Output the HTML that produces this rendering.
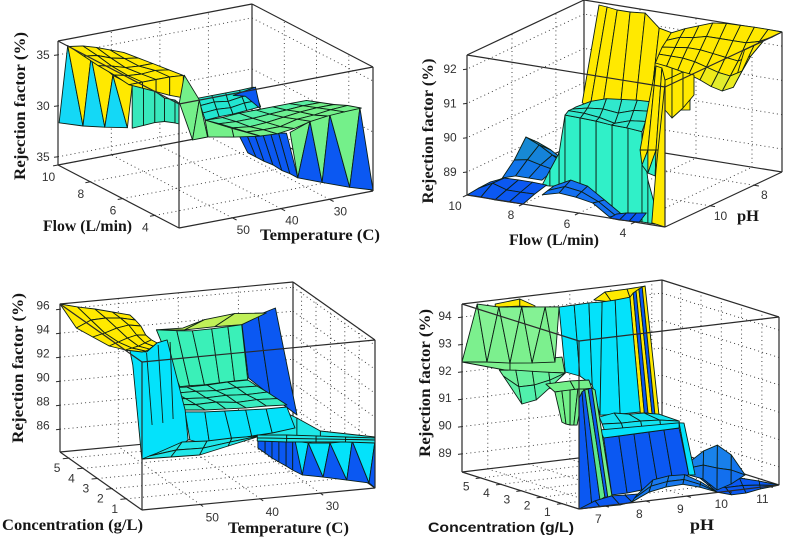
<!DOCTYPE html>
<html lang="en">
<head>
<meta charset="utf-8">
<title>Rejection factor response surfaces</title>
<style>
html,body{margin:0;padding:0;background:#fff;}
#chart{display:block;width:785px;height:539px;filter:blur(0.35px);}
.title{font-family:"Liberation Serif",serif;font-weight:bold;font-size:16px;fill:#161616;}
.tick{font-family:"Liberation Sans",sans-serif;font-size:12px;fill:#333;text-anchor:middle;dominant-baseline:central;}
</style>
</head>
<body>
<svg id="chart" xmlns="http://www.w3.org/2000/svg" width="785" height="539" viewBox="0 0 785 539">
<rect width="785" height="539" fill="#fff"/>
<g id="layer-1"></g>
<g id="layer-2"></g>
<g id="layer-3"></g>
<g id="layer-4"></g>
<text class="title" transform="translate(25 106) rotate(-90)" text-anchor="middle" textLength="148" lengthAdjust="spacingAndGlyphs">Rejection factor (%)</text>
<text class="title" x="43" y="231" textLength="89" lengthAdjust="spacingAndGlyphs">Flow (L/min)</text>
<text class="title" x="260" y="240" textLength="120" lengthAdjust="spacingAndGlyphs">Temperature (C)</text>
<text class="title" transform="translate(433 131) rotate(-90)" text-anchor="middle" textLength="145" lengthAdjust="spacingAndGlyphs">Rejection factor (%)</text>
<text class="title" x="509" y="245" textLength="90" lengthAdjust="spacingAndGlyphs">Flow (L/min)</text>
<text class="title" x="737" y="221" textLength="22" lengthAdjust="spacingAndGlyphs">pH</text>
<text class="title" transform="translate(23 368) rotate(-90)" text-anchor="middle" textLength="150" lengthAdjust="spacingAndGlyphs">Rejection factor (%)</text>
<text class="title" x="2" y="530" textLength="141" lengthAdjust="spacingAndGlyphs">Concentration (g/L)</text>
<text class="title" x="228" y="533" textLength="121" lengthAdjust="spacingAndGlyphs">Temperature (C)</text>
<text class="title" transform="translate(430 383) rotate(-90)" text-anchor="middle" textLength="148" lengthAdjust="spacingAndGlyphs">Rejection factor (%)</text>
<text class="title" x="428" y="532" textLength="146" lengthAdjust="spacingAndGlyphs" style="font-family:'Liberation Sans',sans-serif;font-size:14px">Concentration (g/L)</text>
<text class="title" x="690" y="530" textLength="24" lengthAdjust="spacingAndGlyphs">pH</text>
</svg>
<script>
/* ---------- tick values and labels ---------- */
const p1XTicks=[50,40,30];
const p1YTicks=[10,8,6,4];
const p1ZTicks=[95,90,85];
const p1ZLabels=['35','30','35'];
const p2XTicks=[10,8,6,4];
const p2YTicks=[10,8];
const p2ZTicks=[92,91,90,89];
const p2ZLabels=['92','91','90','89'];
const p3XTicks=[50,40,30];
const p3YTicks=[5,4,3,2,1];
const p3ZTicks=[96,94,92,90,88,86];
const p3ZLabels=['96','94','92','90','88','86'];
const p4XTicks=[7,8,9,10,11];
const p4YTicks=[5,4,3,2,1];
const p4ZTicks=[94,93,92,91,90,89];
const p4ZLabels=['94','93','92','91','90','89'];

/* ---------- panel 1: temperature (x), flow (y), rejection (z) ---------- */
const p1TealBackFlow=[7,7.15,7.3,7.45];
const p1TealBackZ=[[89.2,89.3,89.3,89.4,89.5],[89.8,89.9,89.8,90,90],[90.4,90.5,90.3,90.5,90.5],[91,91,91,91,91.05]];
const p1BlueTopT=[34.2,29.6], p1BlueTopZ=[90.9,91.3], p1BlueBotT=[31.7,28.6], p1BlueBotZ=[90.6,89.1];
const p1ZigLeftFlow=[9.93,9.4,8.45,7.95,7.1,6.6,5.7,5.4];
const p1ZigLeftZ=[88.4,96.4,89.3,96.5,90.3,95.8,91.4,95.8];
const p1TealFlow=[5.4,4.7,4,3.4,2.75,2.5];
const p1TealTop=[95.8,96.6,96.4,96.2,96.54,96.45];
const p1TealBot=[91.6,92.45,93.3,93.9,94.3,94.4];
const p1YellowFlow=[5.6,6.5,7.5,8.4,9.3];
const p1YellowZ=[[95.7,95.7,95.7,95.7,95.6],[95.9,95.6,95.5,95.6,95.4],[96,95.7,95.3,95.2,95.2],[96.2,96,95.5,95.2,95],[96.4,96.2,95.8,95.3,94.8]];
const p1YellowFrontT=[61,58.2,55.4,52.6,49.8];
const p1YellowFrontTop=[95.7,95.7,95.7,95.7,95.6];
const p1YellowFrontBot=[95.7,95.1,94.5,93.9,93.4];
const p1BlueWallTopF=[3.2,3.7,4.2,4.7,5.2,5.7,6.2];
const p1BlueWallTopZ=[90.7,90.3,89.9,89.5,89,88.6,88.2];
const p1BlueWallBotF=[2.5,3,3.5,4.05,4.6,5.1,5.6];
const p1BlueWallBotZ=[86.9,86.9,86.8,86.9,86.8,86.8,86.8];
const p1ZigRightT=[38.1,36.5,34,31.5,29.9,25.8,23.7,21];
const p1ZigRightZ=[91.5,86.9,92.2,86,92.5,85,92.6,84.3];
const p1GreenWallTopT=[49.6,46.5,44.8], p1GreenWallTopZ=[95.6,92.9,89.1];
const p1GreenWallBotT=[50.6,47.9,44.8], p1GreenWallBotZ=[93,89.1,89.1];
const p1GreenExtTopT=[50.6,45.1,39.3], p1GreenExtTopZ=[92.6,91.3,90];
const p1GreenExtBotT=[50,44.7,39.3], p1GreenExtBotZ=[90.9,90.4,90];
const p1GreenFlow=[2.5,3.35,4.2,5.05,5.9];
const p1GreenZ=[[91.7,91.6,91.8,92.2,92.4,92.5,92.55],[91.4,91.3,91.3,91.7,91.8,92,92.1],[91.1,90.9,91,91.2,91.4,91.5,91.5],[90.8,90.7,90.7,90.8,90.9,91,91],[90.45,90.4,90.5,90.5,90.5,90.5,90.5]];

/* ---------- panel 2: flow (x), pH (y), rejection (z) ---------- */
const p2BackTopF=[9.05,8.76,8.4,7.94,7.4,6.9,6.44,5.8];
const p2BackTopZ=[92.55,92.53,92.49,92.49,92.53,92.16,92.08,91.37];
const p2BackBotF=[9.65,9.37,8.94,8.3,7.76,7.23,6.44,5.8];
const p2BackBotZ=[89.62,89.51,89.5,89.59,89.66,89.73,89.83,89.92];
const p2HillPH=[8.43,8,7.57,7.15,6.72];
const p2HillTo=[6.11,6.32,6.54,6.71,6.89];
const p2HillZ=[[92.4,91.26,91.1,91.18,91.32,91.43,91.5,91.56,91.6],[92.4,91.6,91.4,91.45,91.55,91.65,91.7,91.7,91.7],[92.4,91.9,91.7,91.75,91.8,91.85,91.85,91.8,91.75],[92.4,92.2,92.1,92.1,92.1,92.1,92,91.95,91.8],[92.41,92.42,92.42,92.41,92.4,92.35,92.2,92.05,91.86]];
const p2RightPH=[12.05,11.73,11.23,10.73];
const p2RightTop=[92.61,92.6,92.6,92.36];
const p2RightBot=[91.74,91.41,91.55,91.78];
const p2HumpPH=[11.52,10.98,10.45,9.92];
const p2HumpZ=[[88.78,88.9,88.9,88.9],[89.14,89.21,89.12,89.04],[89.65,89.48,89.25,89.02],[89.34,89.18,88.94,88.71]];
const p2TealFlow=[7.32,7.04,6.71,6.5,5.96,5.39,4.82,4.25,3.75,3.54,3.28];
const p2TealTop=[88.97,89.45,89.99,91.12,91.11,91.09,91.05,91.04,91,89.62,88.87];
const p2TealBot=[88.97,88.98,89.03,89.14,89.07,88.85,88.34,88.36,88.37,88.37,88.37];
const p2PlateauPH=[12.05,11.89,11.73,11.57];
const p2PlateauZ=[[91,91.04,91.05,91.09,91.11,91.12],[91.25,91.2,91.05,91.15,91.2,91.2],[91.5,91.45,91.3,91.35,91.3,91.2],[91.72,91.7,91.65,91.6,91.45,91.21]];
const p2SpikeBaseTopF=[3.5,3.25,3.04,2.93], p2SpikeBaseTopZ=[91.9,92.98,92.95,92.61];
const p2SpikeBaseBotF=[3.82,3.54,3.25,2.93], p2SpikeBaseBotZ=[90.46,90.49,90.53,90.57];
const p2ZigFlow=[3.82,3.75,3.54,3.54,3.25,3.28,2.93];
const p2ZigZ=[90.46,90.03,90.49,89.82,90.53,89.77,90.57];
const p2BarTopF=[3.25,2.93], p2BarTopZ=[89.95,92.53], p2BarBotF=[3.4,2.93], p2BarBotZ=[88.39,88.33];
const p2BlueAPH=[12.05,11.52,10.98];
const p2BlueAZ=[[88.33,88.34,88.32,88.32,88.33],[88.37,88.58,88.45,88.45,88.46],[88.39,88.57,88.58,88.58,88.56]];
const p2BlueBPH=[12.05,11.79,11.52];
const p2BlueBZ=[[88.69,88.82,88.78,88.69,88.36],[88.74,88.93,88.86,88.65,88.33],[88.79,89.04,88.94,88.62,88.29]];
const p2BlueCPH=[12.05,11.73];
const p2BlueCZ=[[88.33,88.32,88.34,88.35],[88.35,88.43,88.47,88.52]];

/* ---------- panel 3: temperature (x), concentration (y), rejection (z) ---------- */
const p3BlueBackTopT=[30.8,28.1,25.2], p3BlueBackTopZ=[94.05,94.5,94.95];
const p3BlueBackBotT=[29.7,26.1,21.6], p3BlueBackBotZ=[89.33,87.75,85.87];
const p3TopStripFrontT=[47,42.3,37.3,32.8], p3TopStripFrontZ=[94.87,94.64,94.67,94.62];
const p3TopStripBackT=[42.6,39,34,28.7], p3TopStripBackZ=[94.8,95.33,95.6,95.4];
const p3TealTopT=[47,43.6,41,37.8,35.1,32.8], p3TealTopZ=[94.87,94.63,94.5,94.52,94.56,94.62];
const p3TealBotT=[43.1,41.5,39,36.5,34,31.8], p3TealBotZ=[89.94,89.95,89.91,89.96,90,89.99];
const p3MidConc=[1.33,2,2.7,3.4,4.04];
const p3MidZ=[[90.72,90.56,90.49,90.41,90.41,90.34],[90.58,90.45,90.5,90.3,90.38,90.3],[90.45,90.35,90.25,90.3,90.2,90.25],[90.3,90.2,90.2,90.1,90.2,90.15],[90.17,90.1,90.02,90.02,90.11,90.12]];
const p3TailTopT=[36.7,33.9,30,20.9], p3TailTopZ=[91.35,90.55,89.28,88.35];
const p3TailBotT=[40.5,33.9,30,20.9], p3TailBotZ=[89.27,88.97,88.78,88.1];
const p3MidWallTopT=[49.1,45.8,42.5,39,35.6,32.15], p3MidWallTopZ=[90.56,90.4,90.32,90.24,90.17,90.17];
const p3MidWallBotT=[48.3,45,41.3,38,34.6,30.8], p3MidWallBotZ=[88.18,87.61,87.86,88.03,88.12,88.36];
const p3BandT0=[40.5,40.5,40.5], p3BandT1=[20.9,20.9,20.9];
const p3BandZ=[[88.94,88.63,88.4,88.16,87.85],[89.2,88.93,88.65,88.38,88.1],[89.44,89.21,88.9,88.58,88.27]];
const p3LowWallT=[40.4,39.2,38.05,36.9,35.7,34.6,33];
const p3LowWallTop=[89.18,89.13,89.08,89.03,88.97,88.91,88.84];
const p3LowWallBot=[88.35,87.88,87.41,87.02,86.63,86.24,85.76];
const p3ZigT=[34.2,33,32,29.55,28.4,25.6,24.7,21.9,20.9,20.9];
const p3ZigZ=[88.64,85.76,88.38,85.42,88.2,84.98,88.2,84.57,88.02,84.1];
const p3WallTopT=[58.3,55.5,53.8,52.1,50.6,49.1,48.6], p3WallTopZ=[96.15,95.85,96.53,96.7,93.71,90.72,88.2];
const p3WallBotT=[57.8,56.3,55,53.3,51.6,50,48.6], p3WallBotZ=[94.88,86.98,87,87.09,87.34,87.68,88.2];
const p3LowT0=[58.3,57.1,55.8], p3LowT1=[39.2,39.2,39.2];
const p3LowZ=[[87.8,87.74,87.68,88.21,88.73],[87.99,88.28,88.23,88.52,88.77],[88.18,88.9,88.79,88.84,88.81]];
const p3YellowConc=[-0.1,1.04,2.18,3.32,4.46,5.6];
const p3YellowTo=[57.2,55.4,53.6,51.7,49.9,48.06];
const p3YellowZ=[[97.26,97.31,97.45,97.67,97.9],[96.46,96.58,96.69,96.9,97.1],[95.83,96.09,96.35,96.53,96.45],[95.61,95.85,96.17,96.33,96.15],[95.4,95.95,96,95.88,95.6],[96.43,96.05,95.74,95.35,94.96]];
const p3RibTopT=[55.5,53.6,51.6], p3RibTopZ=[95.77,96.35,96.5];
const p3RibBotT=[54.6,52.8,51.1], p3RibBotZ=[89.73,89.81,90.06];

/* ---------- panel 4: pH (x), concentration (y), rejection (z) ---------- */
const p4CapTopX=[9.3,9.57,10.11,10.55], p4CapTopZ=[94.24,94.48,94.49,94.52];
const p4CapBotX=[9.3,9.74,10.18,10.43], p4CapBotZ=[94.24,94.08,94.18,94.14];
const p4StripeTopX=[10.18,10.26,10.33,10.4,10.48,10.55], p4StripeTopZ=[94.18,94.32,94.38,94.44,94.5,94.52];
const p4StripeBotX=[10.43,10.53,10.62,10.72,10.79,10.89], p4StripeBotZ=[89.9,89.89,89.87,89.81,89.8,89.75];
const p4SkirtFootTopX=[6.37,7.54,8.81], p4SkirtFootTopZ=[92.36,92.15,92.1];
const p4SkirtFootBotX=[6.37,7.54,8.88], p4SkirtFootBotZ=[92.36,91.82,91.51];
const p4ZigX=[6.37,6.74,6.98,7.27,7.54,7.83,8.08,8.4,8.64,8.74];
const p4ZigZ=[92.36,94.41,92.25,94.21,92.11,94.11,92.02,94.01,91.95,93.95];
const p4TinyX=[7.18,7.78,8.15], p4TinyTop=[94.33,94.41,94.09], p4TinyBot=[94.22,94.15,94.05];
const p4LowerFrom=[7.47,7.37,7.27], p4LowerTo=[8.88,8.88,8.88];
const p4LowerZ=[[91.43,90.57,90.66,91.07,91.51],[91.67,91.21,91.21,91.32,91.51],[91.91,91.83,91.72,91.61,91.51]];
const p4CyanTopX=[8.45,8.82,9.18,9.5,9.82,10.18], p4CyanTopZ=[94.13,94.14,94.15,94.13,94.14,94.18];
const p4CyanBotX=[8.6,8.96,9.26,9.45,9.94,10.43], p4CyanBotZ=[91.73,91.52,91.14,90,89.95,89.94];
const p4PlateauFrom=[8.72,8.64,8.57], p4PlateauTo=[10.52,10.52,10.03];
const p4PlateauZ=[[89.88,89.88,89.87,89.86,89.89],[90.23,90.18,90.17,90.12,90],[90.5,90.58,90.47,90.45,90.34]];
const p4FlatFrom=[9.74,9.53,9.32], p4FlatTo=[11.15,11.2,11.25];
const p4FlatZ=[[88.35,88.19,88.19,88.28,88.32],[88.65,88.48,88.48,88.42,88.33],[88.94,88.78,88.77,88.57,88.34]];
const p4HillFrom=[9.34,9.35,9.36], p4HillTo=[10.71,10.71,10.71];
const p4HillZ=[[88.91,88.71,88.24,88.4,88.67],[89.17,89.21,89.04,88.91,88.67],[89.39,89.73,89.88,89.46,88.67]];
const p4BlueTopX=[7.83,8.2,8.57,8.93,9.3,9.67], p4BlueTopZ=[90.27,90.27,90.28,90.29,90.3,90.3];
const p4BlueBotX=[8.03,8.4,8.76,9.13,9.5,9.91], p4BlueBotZ=[88.15,88.15,88.2,88.5,88.54,88.54];
const p4BandTopX=[7.74,9.67], p4BandTopZ=[90.58,90.49], p4BandBotX=[7.83,9.67], p4BandBotZ=[90.27,90.3];
const p4SideTopX=[9.67,9.79], p4SideTopZ=[90.49,90.46], p4SideBotX=[9.91,10.06], p4SideBotZ=[88.54,88.52];
const p4GreenCapTopX=[6.42,7.01,7.47], p4GreenCapTopZ=[92.49,92.5,92.45];
const p4GreenCapBotX=[6.64,7.13,7.54], p4GreenCapBotZ=[92.16,92.15,92.14];
const p4GreenWallTopX=[6.64,6.81,7.01,7.2,7.35], p4GreenWallTopZ=[92.16,92.17,92.17,92.17,92.14];
const p4GreenWallBotX=[6.81,6.91,7.01,7.1,7.18], p4GreenWallBotZ=[91.03,90.94,90.89,90.87,90.86];
const p4LeftTopX=[6.66,6.73,6.8,6.88,6.97,7.05], p4LeftTopZ=[92.21,92.42,92.48,92.5,92.52,92.43];
const p4LeftBotX=[6.66,6.97,7.17,7.29,7.36,7.46], p4LeftBotZ=[88.15,88.24,88.39,88.48,88.46,88.49];
const p4FloorTopX=[6.66,7.05,7.46,7.78,8.12], p4FloorTopZ=[88.15,88.38,88.49,88.46,88.44];
const p4FloorBotX=[6.66,7.17,7.66,7.95,8.12], p4FloorBotZ=[88.15,88.14,88.12,88.18,88.29];
const p4BumpFrom=[7.95,8.01,8.07], p4BumpTo=[10.02,10.02,10.02];
const p4BumpZ=[[88.18,88.46,88.57,88.6,88.42,88.17],[88.3,88.67,88.77,88.77,88.52,88.17],[88.41,88.89,88.97,88.94,88.61,88.17]];

/* ---------- colours ---------- */
const YEL='#ffe900', CYAN='#04e2fb', TEAL='#32eec2', GREEN='#74f08a', BLUE='#0b58f2';
const NS='http://www.w3.org/2000/svg';

/* ---------- axis frames: one linear function per axis, combined into an oblique projection ---------- */
const P1={layer:'layer-1',key:'p1',O:[179,228],u:[194,-37],v:[-121,-63],h:124,x:[61,21],y:[2.5,10],z:[84.2,96.36],zEdge:[61,10],xOff:[11,12],yOff:[-9.5,12],zOff:[-15,0]};
const P2={layer:'layer-2',key:'p2',O:[665,227],u:[-198,-32],v:[117,-55],h:140,x:[2.93,10],y:[12.05,6.72],z:[88.33,92.41],zEdge:[10,12.05],xOff:[-12,11],yOff:[10.5,10],zOff:[-17,0]};
const P3={layer:'layer-3',key:'p3',O:[142,510],u:[233,-22],v:[-82,-58],h:148,x:[59.7,20.9],y:[-0.1,5.6],z:[84.1,96.43],zEdge:[59.7,5.6],xOff:[12,13],yOff:[-11.5,10],zOff:[-17,-3.5]};
const P4={layer:'layer-4',key:'p4',O:[579,509],u:[200,-24],v:[-117,-37],h:168,x:[6.37,11.25],y:[0.16,5.92],z:[88.34,94.48],zEdge:[6.37,5.92],xOff:[-6.5,13],yOff:[-14.5,8.5],zOff:[-17,-1]};

function project(P,x,y,z){
  const a=(x-P.x[0])/(P.x[1]-P.x[0]);
  const b=(y-P.y[0])/(P.y[1]-P.y[0]);
  const c=(z-P.z[0])/(P.z[1]-P.z[0]);
  return [P.O[0]+P.u[0]*a+P.v[0]*b, P.O[1]+P.u[1]*a+P.v[1]*b-P.h*c];
}
function at(v,i){return Array.isArray(v)?v[i]:v;}
function hex(c){return [1,3,5].map(function(i){return parseInt(c.substr(i,2),16);});}
function colorFor(fill,z){
  if(typeof fill==='string')return fill;
  const t=Math.max(0,Math.min(1,(z-fill[2])/(fill[3]-fill[2])));
  const A=hex(fill[0]),B=hex(fill[1]);
  return 'rgb('+A.map(function(v,i){return Math.round(v+(B[i]-v)*t);}).join(',')+')';
}
function layer(P){return document.getElementById(P.layer);}
function poly(P,pts,fill,name){
  const el=document.createElementNS(NS,'polygon');
  el.setAttribute('points',pts.map(function(p){return p[0].toFixed(1)+','+p[1].toFixed(1);}).join(' '));
  el.setAttribute('fill',fill);
  el.setAttribute('stroke','#0d1f16');
  el.setAttribute('stroke-width','0.9');
  el.setAttribute('stroke-linejoin','round');
  
  
  layer(P).appendChild(el);
}
function line(P,p,q,name,width,color,dash){
  const el=document.createElementNS(NS,'line');
  el.setAttribute('x1',p[0].toFixed(1));
  el.setAttribute('y1',p[1].toFixed(1));
  el.setAttribute('x2',q[0].toFixed(1));
  el.setAttribute('y2',q[1].toFixed(1));
  el.setAttribute('stroke',color);
  el.setAttribute('stroke-width',width);
  if(dash)el.setAttribute('stroke-dasharray',dash);
  
  
  layer(P).appendChild(el);
}
function label(P,p,off,str,name){
  const el=document.createElementNS(NS,'text');
  el.setAttribute('class','tick');
  el.setAttribute('x',(p[0]+off[0]).toFixed(1));
  el.setAttribute('y',(p[1]+off[1]).toFixed(1));
  el.textContent=str;
  
  
  layer(P).appendChild(el);
}
/* mesh over rows; each row spans xFrom..xTo at its y value, z table gives heights */
function sheet(P,name,fill,rowY,xFrom,xTo,z){
  const rows=z.length,cols=z[0].length;
  const pt=function(i,j){
    const x=at(xFrom,i)+(at(xTo,i)-at(xFrom,i))*j/(cols-1);
    return project(P,x,at(rowY,i),z[i][j]);
  };
  for(let i=rows-2;i>=0;i--){
    for(let j=0;j<cols-1;j++){
      const avg=(z[i][j]+z[i][j+1]+z[i+1][j]+z[i+1][j+1])/4;
      poly(P,[pt(i,j),pt(i,j+1),pt(i+1,j+1),pt(i+1,j)],colorFor(fill,avg),name+'-cell');
    }
  }
}
/* wall between a top polyline and a bottom polyline */
function strip(P,name,fill,topX,topY,topZ,botX,botY,botZ){
  const n=Math.max(topX.length||0,topY.length||0);
  for(let i=0;i<n-1;i++){
    const f=Array.isArray(fill)?fill[i%fill.length]:fill;
    poly(P,[project(P,at(topX,i),at(topY,i),at(topZ,i)),project(P,at(topX,i+1),at(topY,i+1),at(topZ,i+1)),project(P,at(botX,i+1),at(botY,i+1),at(botZ,i+1)),project(P,at(botX,i),at(botY,i),at(botZ,i))],f,name+'-panel');
  }
}
/* saw-tooth skirt of alternating triangles */
function zigzag(P,name,fills,xs,ys,zs){
  const n=Math.max(xs.length||0,ys.length||0);
  for(let i=0;i<n-2;i++){
    poly(P,[0,1,2].map(function(k){return project(P,at(xs,i+k),at(ys,i+k),at(zs,i+k));}),fills[i%fills.length],name+'-tooth');
  }
}
function ribs(P,name,topX,y,topZ,botX,botZ){
  topX.forEach(function(v,i){
    line(P,project(P,v,y,topZ[i]),project(P,botX[i],y,botZ[i]),name,'0.9','#0d1f16');
  });
}
function backFrame(P,xTicks,yTicks,zTicks){
  const k=P.key,X0=P.x[0],X1=P.x[1],Y0=P.y[0],Y1=P.y[1],Z0=P.z[0],Z1=P.z[1];
  const dot='1 3.2';
  xTicks.forEach(function(t){
    line(P,project(P,t,Y0,Z0),project(P,t,Y1,Z0),k+'-floor-gridline-x','0.9','#333',dot);
    line(P,project(P,t,Y1,Z0),project(P,t,Y1,Z1),k+'-wall-gridline-x','0.9','#333',dot);
  });
  yTicks.forEach(function(t){
    line(P,project(P,X0,t,Z0),project(P,X1,t,Z0),k+'-floor-gridline-y','0.9','#333',dot);
    line(P,project(P,X1,t,Z0),project(P,X1,t,Z1),k+'-wall-gridline-y','0.9','#333',dot);
  });
  zTicks.forEach(function(t){
    line(P,project(P,X0,Y1,t),project(P,X1,Y1,t),k+'-wall-gridline-z','0.9','#333',dot);
    line(P,project(P,X1,Y1,t),project(P,X1,Y0,t),k+'-wall-gridline-z','0.9','#333',dot);
  });
  const c='#2a2a2a',w='1.2';
  line(P,project(P,X1,Y1,Z1),project(P,X0,Y1,Z1),k+'-box-edge','1.2',c);
  line(P,project(P,X1,Y1,Z1),project(P,X1,Y0,Z1),k+'-box-edge',w,c);
  line(P,project(P,X1,Y1,Z0),project(P,X0,Y1,Z0),k+'-box-edge',w,c);
  line(P,project(P,X1,Y1,Z0),project(P,X1,Y0,Z0),k+'-box-edge',w,c);
  line(P,project(P,X1,Y1,Z0),project(P,X1,Y1,Z1),k+'-box-edge',w,c);
}
function frontFrame(P,xTicks,yTicks,zTicks,zLabels){
  const k=P.key,X0=P.x[0],X1=P.x[1],Y0=P.y[0],Y1=P.y[1],Z0=P.z[0],Z1=P.z[1];
  const c='#2a2a2a',w='1.2';
  line(P,project(P,X0,Y0,Z1),project(P,X1,Y0,Z1),k+'-box-edge',w,c);
  line(P,project(P,X0,Y0,Z1),project(P,X0,Y1,Z1),k+'-box-edge',w,c);
  line(P,project(P,X0,Y0,Z0),project(P,X1,Y0,Z0),k+'-x-axis-line',w,c);
  line(P,project(P,X0,Y0,Z0),project(P,X0,Y1,Z0),k+'-y-axis-line',w,c);
  line(P,project(P,X0,Y0,Z0),project(P,X0,Y0,Z1),k+'-box-edge',w,c);
  line(P,project(P,X1,Y0,Z0),project(P,X1,Y0,Z1),k+'-box-edge',w,c);
  line(P,project(P,X0,Y1,Z0),project(P,X0,Y1,Z1),k+'-z-axis-line',w,c);
  xTicks.forEach(function(t){
    const p=project(P,t,Y0,Z0);
    line(P,p,[p[0]-P.v[0]*0.035,p[1]-P.v[1]*0.035],k+'-x-tick','1',c);
    label(P,p,P.xOff,String(t),k+'-x-tick-label');
  });
  yTicks.forEach(function(t){
    const p=project(P,X0,t,Z0);
    line(P,p,[p[0]-P.u[0]*0.025,p[1]-P.u[1]*0.025],k+'-y-tick','1',c);
    label(P,p,P.yOff,String(t),k+'-y-tick-label');
  });
  zTicks.forEach(function(t,i){
    const p=project(P,P.zEdge[0],P.zEdge[1],t);
    line(P,p,[p[0]-4,p[1]+0.5],k+'-z-tick','1',c);
    label(P,p,P.zOff,zLabels[i],k+'-z-tick-label');
  });
}

/* ---------- panel 1 ---------- */
backFrame(P1,p1XTicks,p1YTicks,p1ZTicks);
sheet(P1,'p1-teal-back-plateau','#22e6d0',p1TealBackFlow,40.6,29.2,p1TealBackZ);
strip(P1,'p1-blue-back-corner',BLUE,p1BlueTopT,7.2,p1BlueTopZ,p1BlueBotT,7.2,p1BlueBotZ);
zigzag(P1,'p1-left-skirt',['#14d8f6',YEL],61,p1ZigLeftFlow,p1ZigLeftZ);
strip(P1,'p1-teal-left-wall','#38e8bc',61,p1TealFlow,p1TealTop,61,p1TealFlow,p1TealBot);
sheet(P1,'p1-yellow-plateau',YEL,p1YellowFlow,61,49.8,p1YellowZ);
strip(P1,'p1-yellow-front',YEL,p1YellowFrontT,5.6,p1YellowFrontTop,p1YellowFrontT,5.6,p1YellowFrontBot);
strip(P1,'p1-blue-lower-wall',BLUE,36.5,p1BlueWallTopF,p1BlueWallTopZ,36.5,p1BlueWallBotF,p1BlueWallBotZ);
zigzag(P1,'p1-right-skirt',[GREEN,BLUE],p1ZigRightT,2.5,p1ZigRightZ);
strip(P1,'p1-green-step',GREEN,p1GreenWallTopT,5.6,p1GreenWallTopZ,p1GreenWallBotT,5.6,p1GreenWallBotZ);
strip(P1,'p1-green-left-extension',GREEN,p1GreenExtTopT,4,p1GreenExtTopZ,p1GreenExtBotT,4,p1GreenExtBotZ);
sheet(P1,'p1-green-plateau',['#4aeeb0',GREEN,90.5,91.2],p1GreenFlow,44.2,23.4,p1GreenZ);
frontFrame(P1,p1XTicks,p1YTicks,p1ZTicks,p1ZLabels);

/* ---------- panel 2 ---------- */
backFrame(P2,p2XTicks,p2YTicks,p2ZTicks);
strip(P2,'p2-yellow-back-wall',YEL,p2BackTopF,7.25,p2BackTopZ,p2BackBotF,7.25,p2BackBotZ);
sheet(P2,'p2-yellow-hill',['#c4f05c',YEL,91.05,91.5],p2HillPH,2.93,p2HillTo,p2HillZ);
strip(P2,'p2-yellow-right-wall',YEL,2.93,p2RightPH,p2RightTop,2.93,p2RightPH,p2RightBot);
sheet(P2,'p2-blue-hump',['#0f6ef0','#1b96c6',88.9,89.6],p2HumpPH,9.15,7.74,p2HumpZ);
strip(P2,'p2-teal-wall','#30f0c8',p2TealFlow,12.05,p2TealTop,p2TealFlow,12.05,p2TealBot);
sheet(P2,'p2-teal-plateau','#30e8cc',p2PlateauPH,3.75,6.5,p2PlateauZ);
strip(P2,'p2-yellow-spike-base',YEL,p2SpikeBaseTopF,12.05,p2SpikeBaseTopZ,p2SpikeBaseBotF,12.05,p2SpikeBaseBotZ);
zigzag(P2,'p2-yellow-spikes',[YEL,'#30f0c8'],p2ZigFlow,12.05,p2ZigZ);
strip(P2,'p2-yellow-front-bar',YEL,p2BarTopF,12.05,p2BarTopZ,p2BarBotF,12.05,p2BarBotZ);
sheet(P2,'p2-blue-floor-left',BLUE,p2BlueAPH,10,8,p2BlueAZ);
sheet(P2,'p2-blue-floor-hump','#1470f0',p2BlueBPH,7.31,4.91,p2BlueBZ);
sheet(P2,'p2-blue-floor-right',BLUE,p2BlueCPH,4.91,3.85,p2BlueCZ);
frontFrame(P2,p2XTicks,p2YTicks,p2ZTicks,p2ZLabels);

/* ---------- panel 3 ---------- */
backFrame(P3,p3XTicks,p3YTicks,p3ZTicks);
strip(P3,'p3-blue-back-wall',BLUE,p3BlueBackTopT,5.03,p3BlueBackTopZ,p3BlueBackBotT,5.03,p3BlueBackBotZ);
strip(P3,'p3-lime-top-strip','#bff058',p3TopStripBackT,4.2,p3TopStripBackZ,p3TopStripFrontT,4.2,p3TopStripFrontZ);
strip(P3,'p3-teal-back-wall','#3af0b8',p3TealTopT,4.2,p3TealTopZ,p3TealBotT,4.2,p3TealBotZ);
sheet(P3,'p3-teal-mid-plateau','#38ecc0',p3MidConc,49.1,32.15,p3MidZ);
strip(P3,'p3-cyan-tail','#1fe8e8',p3TailTopT,-0.1,p3TailTopZ,p3TailBotT,-0.1,p3TailBotZ);
strip(P3,'p3-cyan-mid-wall',CYAN,p3MidWallTopT,1.33,p3MidWallTopZ,p3MidWallBotT,1.33,p3MidWallBotZ);
strip(P3,'p3-blue-low-wall',BLUE,p3LowWallT,-0.1,p3LowWallTop,p3LowWallT,-0.1,p3LowWallBot);
zigzag(P3,'p3-right-skirt',[CYAN,BLUE],p3ZigT,-0.1,p3ZigZ);
sheet(P3,'p3-cyan-right-band','#1fe6e8',-0.1,p3BandT0,p3BandT1,p3BandZ);
poly(P3,[p3WallTopT.map(function(v,i){return project(P3,v,1.33,p3WallTopZ[i]);}),p3WallBotT.map(function(v,i){return project(P3,v,1.33,p3WallBotZ[i]);}).reverse()].flat(),CYAN,'p3-cyan-left-wall');
sheet(P3,'p3-cyan-low-plateau','#1fe6e8',0.47,p3LowT0,p3LowT1,p3LowZ);
sheet(P3,'p3-yellow-plateau',YEL,p3YellowConc,59.7,p3YellowTo,p3YellowZ);
ribs(P3,'p3-wall-rib',p3RibTopT,1.33,p3RibTopZ,p3RibBotT,p3RibBotZ);
frontFrame(P3,p3XTicks,p3YTicks,p3ZTicks,p3ZLabels);

/* ---------- panel 4 ---------- */
backFrame(P4,p4XTicks,p4YTicks,p4ZTicks);
strip(P4,'p4-yellow-cap',YEL,p4CapTopX,5.34,p4CapTopZ,p4CapBotX,5.34,p4CapBotZ);
strip(P4,'p4-yellow-blue-stripes',[YEL,BLUE],p4StripeTopX,5.34,p4StripeTopZ,p4StripeBotX,5.34,p4StripeBotZ);
strip(P4,'p4-yellow-top-tab',YEL,p4TinyX,5.92,p4TinyTop,p4TinyX,5.92,p4TinyBot);
strip(P4,'p4-green-skirt-foot','#7cf08e',p4SkirtFootTopX,5.92,p4SkirtFootTopZ,p4SkirtFootBotX,5.92,p4SkirtFootBotZ);
zigzag(P4,'p4-green-skirt',['#7cf08e','#84f294'],p4ZigX,5.92,p4ZigZ);
sheet(P4,'p4-green-lower',['#44f0b4','#74f096',90.6,91.8],5.9,p4LowerFrom,p4LowerTo,p4LowerZ);
strip(P4,'p4-cyan-wall',CYAN,p4CyanTopX,5.34,p4CyanTopZ,p4CyanBotX,5.34,p4CyanBotZ);
sheet(P4,'p4-cyan-plateau','#14e2f0',3.6,p4PlateauFrom,p4PlateauTo,p4PlateauZ);
sheet(P4,'p4-blue-right-floor',BLUE,0.16,p4FlatFrom,p4FlatTo,p4FlatZ);
sheet(P4,'p4-blue-right-hump',['#0f66f0','#1a86ea',88.3,89.6],0.74,p4HillFrom,p4HillTo,p4HillZ);
strip(P4,'p4-blue-wall',BLUE,p4BlueTopX,1.89,p4BlueTopZ,p4BlueBotX,1.89,p4BlueBotZ);
strip(P4,'p4-cyan-band',CYAN,p4BandTopX,1.89,p4BandTopZ,p4BandBotX,1.89,p4BandBotZ);
strip(P4,'p4-cyan-side-band',CYAN,p4SideTopX,1.89,p4SideTopZ,p4SideBotX,1.89,p4SideBotZ);
strip(P4,'p4-green-cap',GREEN,p4GreenCapTopX,1.89,p4GreenCapTopZ,p4GreenCapBotX,1.89,p4GreenCapBotZ);
strip(P4,'p4-green-step',GREEN,p4GreenWallTopX,1.89,p4GreenWallTopZ,p4GreenWallBotX,1.89,p4GreenWallBotZ);
strip(P4,'p4-left-stripes',[BLUE,BLUE,'#5ce88a',BLUE,GREEN,CYAN],p4LeftTopX,0.74,p4LeftTopZ,p4LeftBotX,0.74,p4LeftBotZ);
strip(P4,'p4-blue-floor',BLUE,p4FloorTopX,0.74,p4FloorTopZ,p4FloorBotX,0.74,p4FloorBotZ);
sheet(P4,'p4-blue-bump','#1878ee',0.74,p4BumpFrom,p4BumpTo,p4BumpZ);
frontFrame(P4,p4XTicks,p4YTicks,p4ZTicks,p4ZLabels);
</script>
</body>
</html>
